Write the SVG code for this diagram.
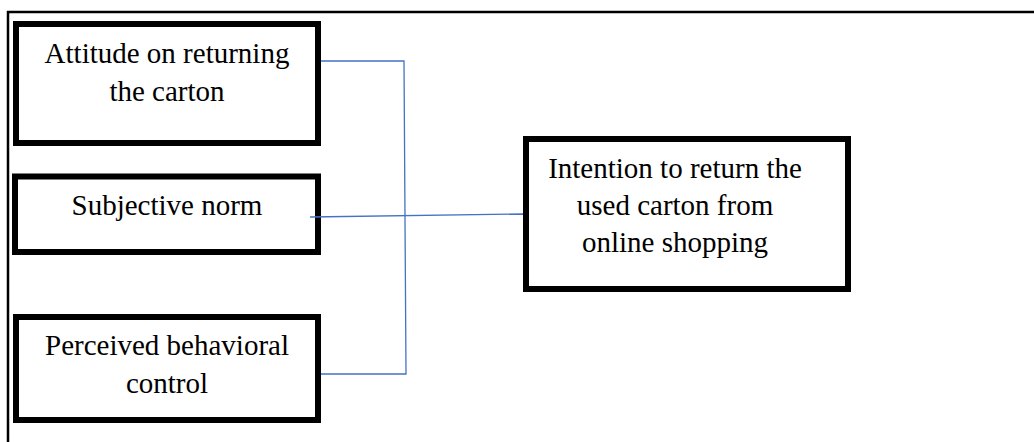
<svg xmlns="http://www.w3.org/2000/svg" width="1034" height="442" viewBox="0 0 1034 442">
<style>
.box{fill:#fff;stroke:#000;stroke-width:6}
.t{font-family:"Liberation Serif","Times New Roman",serif;font-size:29px;fill:#000;text-anchor:middle}
.c{stroke:#4472C4;stroke-width:1.3;fill:none}
.frame{stroke:#000;stroke-width:2.5;fill:none}
</style>
<rect width="1034" height="442" fill="#fff"/>
<path class="frame" d="M8,442 V12 H1034"/>
<g id="attitude">
<rect class="box" x="16" y="24" width="302" height="119"/>
<text class="t" x="167" y="63">Attitude on returning</text>
<text class="t" x="167" y="101">the carton</text>
</g>
<g id="subjective">
<rect class="box" x="15" y="176.5" width="303" height="75.5"/>
<text class="t" x="167" y="215">Subjective norm</text>
</g>
<g id="perceived">
<rect class="box" x="16" y="317" width="302" height="103"/>
<text class="t" x="167" y="355">Perceived behavioral</text>
<text class="t" x="167" y="393">control</text>
</g>
<g id="intention">
<rect class="box" x="526" y="139" width="322" height="150"/>
<text class="t" x="675" y="178">Intention to return the</text>
<text class="t" x="675" y="215">used carton from</text>
<text class="t" x="675" y="252">online shopping</text>
</g>
<g id="connectors">
<path class="c" d="M321,61 H404 L406,374 H321"/>
<path class="c" d="M310,217 L523,214"/>
</g>
</svg>
